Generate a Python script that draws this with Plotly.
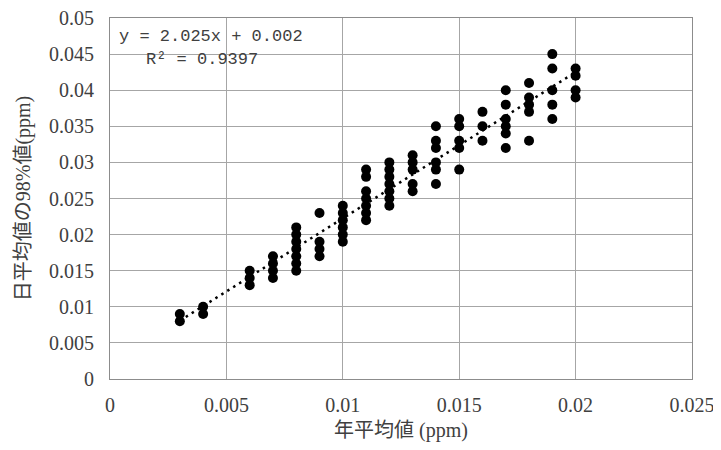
import plotly.graph_objects as go

# Data: annual mean (ppm) vs 98th percentile of daily means (ppm)
x_vals = (
    [0.003] * 2 + [0.004] * 2 + [0.006] * 3 + [0.007] * 4 + [0.008] * 7 +
    [0.009] * 4 + [0.010] * 6 + [0.011] * 7 + [0.012] * 7 + [0.013] * 5 +
    [0.014] * 6 + [0.015] * 5 + [0.016] * 3 + [0.017] * 6 + [0.018] * 5 +
    [0.019] * 5 + [0.020] * 4
)
y_vals = (
    [0.009, 0.008] +
    [0.010, 0.009] +
    [0.015, 0.014, 0.013] +
    [0.017, 0.016, 0.015, 0.014] +
    [0.021, 0.020, 0.019, 0.018, 0.017, 0.016, 0.015] +
    [0.023, 0.019, 0.018, 0.017] +
    [0.024, 0.023, 0.022, 0.021, 0.020, 0.019] +
    [0.029, 0.028, 0.026, 0.025, 0.024, 0.023, 0.022] +
    [0.030, 0.029, 0.028, 0.027, 0.026, 0.025, 0.024] +
    [0.031, 0.030, 0.029, 0.027, 0.026] +
    [0.035, 0.033, 0.032, 0.030, 0.029, 0.027] +
    [0.036, 0.035, 0.033, 0.032, 0.029] +
    [0.037, 0.035, 0.033] +
    [0.040, 0.038, 0.036, 0.035, 0.034, 0.032] +
    [0.041, 0.039, 0.038, 0.037, 0.033] +
    [0.045, 0.043, 0.040, 0.038, 0.036] +
    [0.043, 0.042, 0.040, 0.039]
)

slope = 2.025
intercept = 0.002
trend_x = [min(x_vals), max(x_vals)]
trend_y = [slope * v + intercept for v in trend_x]

eq_text = "y = 2.025x + 0.002"
r2_text = "R² = 0.9397"

x_ticks = [0, 0.005, 0.01, 0.015, 0.02, 0.025]
x_ticktext = ["0", "0.005", "0.01", "0.015", "0.02", "0.025"]
y_ticks = [0, 0.005, 0.01, 0.015, 0.02, 0.025, 0.03, 0.035, 0.04, 0.045, 0.05]
y_ticktext = ["0", "0.005", "0.01", "0.015", "0.02", "0.025", "0.03", "0.035", "0.04", "0.045", "0.05"]

FONT = "Liberation Serif, Noto Sans CJK JP, serif"
MONO = "Liberation Mono, Noto Sans CJK JP, monospace"
TXT = "#404040"

fig = go.Figure()
fig.add_trace(go.Scatter(
    x=x_vals, y=y_vals, mode="markers",
    marker=dict(color="black", size=10, line=dict(width=0)),
    showlegend=False, hoverinfo="x+y",
))
fig.add_trace(go.Scatter(
    x=trend_x, y=trend_y, mode="lines",
    line=dict(color="black", width=2.5, dash="2.5px,4.5px"),
    showlegend=False, hoverinfo="skip",
))

axis_common = dict(
    showgrid=True, gridcolor="#a6a6a6", gridwidth=1,
    showline=True, linecolor="#8c8c8c", linewidth=1, mirror=True,
    zeroline=False, ticks="", automargin=False, ticklabeloverflow="allow",
    tickfont=dict(family=FONT, size=20, color=TXT),
)

# the page places the figure 8px in from the top-left corner
fig.update_layout(
    width=713, height=442,
    margin=dict(l=102, r=29, t=10, b=71),
    paper_bgcolor="white", plot_bgcolor="white",
    font=dict(family=FONT, size=20, color=TXT),
    xaxis=dict(range=[0, 0.025], tickvals=x_ticks, ticktext=x_ticktext,
               ticklabelstandoff=8,
               title=dict(text="年平均値 (ppm)", font=dict(family=FONT, size=20, color=TXT), standoff=7),
               **axis_common),
    yaxis=dict(range=[0, 0.05], tickvals=y_ticks, ticktext=y_ticktext,
               ticklabelstandoff=11,
               title=dict(text="日平均値の98%値(ppm)", font=dict(family=FONT, size=20, color=TXT), standoff=13),
               **axis_common),
    annotations=[
        dict(text=eq_text, xref="paper", yref="paper", x=0.012, y=0.950,
             xanchor="left", yanchor="middle", showarrow=False,
             font=dict(family=MONO, size=17, color=TXT)),
        dict(text=r2_text, xref="paper", yref="paper", x=0.058, y=0.886,
             xanchor="left", yanchor="middle", showarrow=False,
             font=dict(family=MONO, size=17, color=TXT)),
    ],
)

fig.write_html("out.html")
